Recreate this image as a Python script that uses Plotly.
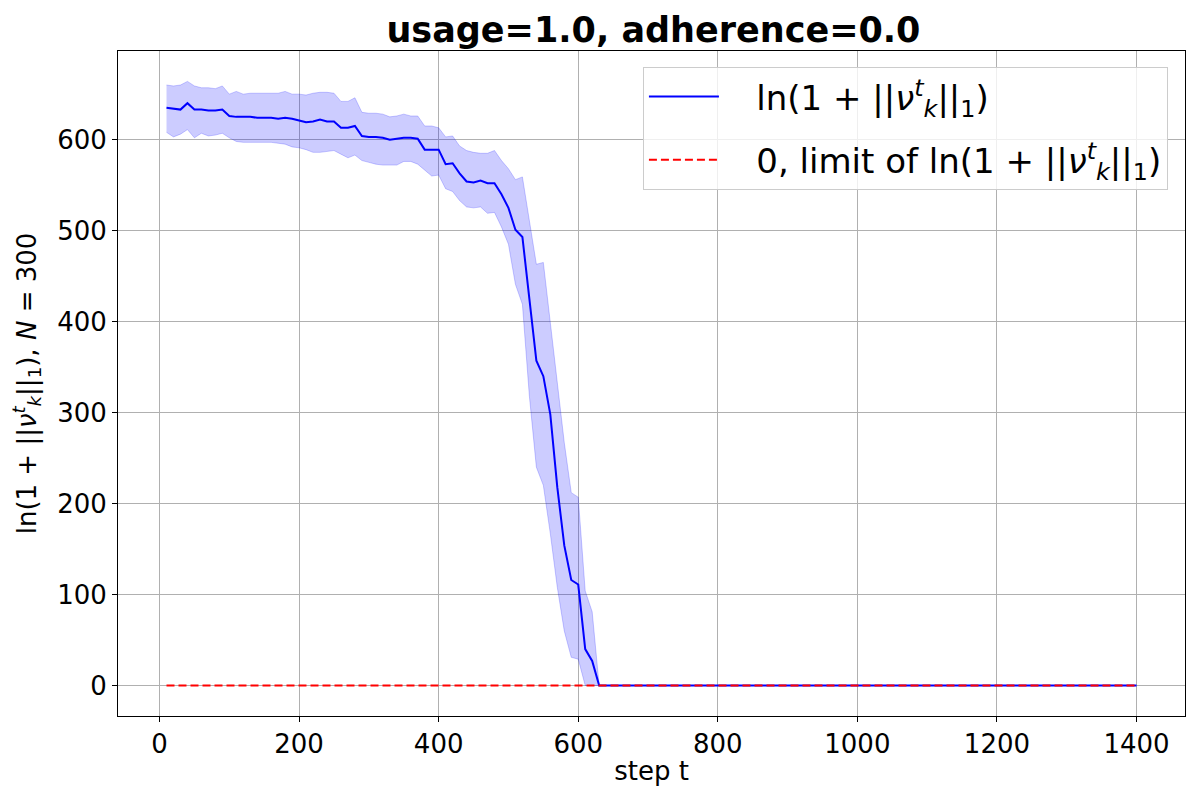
import plotly.graph_objects as go

# steps every 10 from 10 to 1400
steps = list(range(10, 1401, 10))

# mean of ln(1+||v||_1), steps 10..630
mean_head = [635, 634, 633, 640, 633, 633, 632, 632, 633, 626,
             625, 625, 625, 624, 624, 624, 623, 624, 623, 621,
             619, 620, 622, 620, 620, 613, 613, 615, 604, 603,
             603, 602, 600, 601, 602, 602, 601, 589, 589, 589,
             573, 574, 563, 554, 553, 555, 552, 552, 540, 525,
             501, 493, 425, 357, 340, 298, 218, 154, 116, 111,
             40, 27, 0]
upper_head = [660, 659, 660, 664, 659, 657, 657, 656, 659, 650,
              653, 650, 651, 651, 651, 651, 651, 653, 650, 650,
              649, 651, 652, 652, 651, 642, 642, 646, 630, 629,
              629, 628, 625, 626, 628, 626, 626, 615, 615, 613,
              603, 604, 593, 588, 586, 585, 585, 588, 577, 568,
              556, 559, 511, 463, 465, 401, 332, 267, 212, 207,
              104, 81, 0]
lower_head = [608, 603, 606, 611, 602, 607, 604, 605, 607, 602,
              598, 597, 597, 597, 597, 597, 596, 595, 592, 591,
              589, 586, 586, 587, 588, 584, 580, 583, 577, 575,
              573, 572, 572, 572, 576, 576, 573, 566, 560, 561,
              546, 543, 533, 526, 525, 526, 519, 520, 504, 485,
              441, 419, 318, 240, 220, 167, 108, 60, 31, 29,
              0, 0, 0]
# after step 630 everything sits at 0
tail = [0] * (len(steps) - len(mean_head))
mean_vals = mean_head + tail
upper_vals = upper_head + tail
lower_vals = lower_head + tail
limit_vals = [0] * len(steps)

x_ticks = [0, 200, 400, 600, 800, 1000, 1200, 1400]
y_ticks = [0, 100, 200, 300, 400, 500, 600]

FONT = "DejaVu Sans"
label_main = "ln(1 + ||<i>ν</i><sup><i>t</i></sup><sub><i>k</i></sub>||<sub>1</sub>)"
pad = "\u00a0\u00a0\u00a0"  # gap between legend line and its text

fig = go.Figure()
fig.add_trace(go.Scatter(x=steps, y=lower_vals, mode="lines",
                         line=dict(color="rgba(0,0,255,0.2)", width=1),
                         showlegend=False, hoverinfo="skip"))
fig.add_trace(go.Scatter(x=steps, y=upper_vals, mode="lines",
                         line=dict(color="rgba(0,0,255,0.2)", width=1),
                         fill="tonexty", fillcolor="rgba(0,0,255,0.2)",
                         showlegend=False, hoverinfo="skip"))
fig.add_trace(go.Scatter(x=steps, y=mean_vals, mode="lines",
                         line=dict(color="blue", width=2),
                         name=pad + label_main, legendgroup="mean"))
fig.add_trace(go.Scatter(x=steps, y=limit_vals, mode="lines",
                         line=dict(color="red", width=2, dash="8px,4px"),
                         name=pad + "0, limit of " + label_main, legendgroup="limit"))

axis_common = dict(showgrid=True, gridcolor="#b0b0b0", gridwidth=1,
                   showline=True, linecolor="black", linewidth=1, mirror=True,
                   ticks="outside", ticklen=5, tickwidth=1, tickcolor="black",
                   zeroline=False, automargin=False,
                   tickfont=dict(family=FONT, size=26, color="black"))

# the page puts the plot 8px in from the top-left corner
fig.update_layout(
    width=1192, height=784,
    paper_bgcolor="white", plot_bgcolor="white",
    margin=dict(l=110, r=15, t=43, b=76),
    font=dict(family=FONT, color="black"),
    title=dict(text="<b>usage=1.0, adherence=0.0</b>", x=0.5415, xanchor="center",
               y=1 - 22 / 784, yref="container", yanchor="middle",
               font=dict(family=FONT, size=35, color="black")),
    xaxis=dict(range=[-59.5, 1469.5], tickvals=x_ticks,
               title=dict(text="step t", font=dict(family=FONT, size=26), standoff=3),
               **axis_common),
    yaxis=dict(range=[-33.5, 697.4], tickvals=y_ticks,
               title=dict(text=label_main + ", <i>N</i> = 300",
                          font=dict(family=FONT, size=26), standoff=15),
               **axis_common),
    legend=dict(x=0.984, y=0.976, xanchor="right", yanchor="top",
                bgcolor="rgba(255,255,255,0.8)", bordercolor="#cccccc", borderwidth=1,
                font=dict(family=FONT, size=34, color="black"),
                traceorder="grouped", tracegroupgap=16, itemwidth=70),
    showlegend=True,
)

fig.write_html("out.html")
